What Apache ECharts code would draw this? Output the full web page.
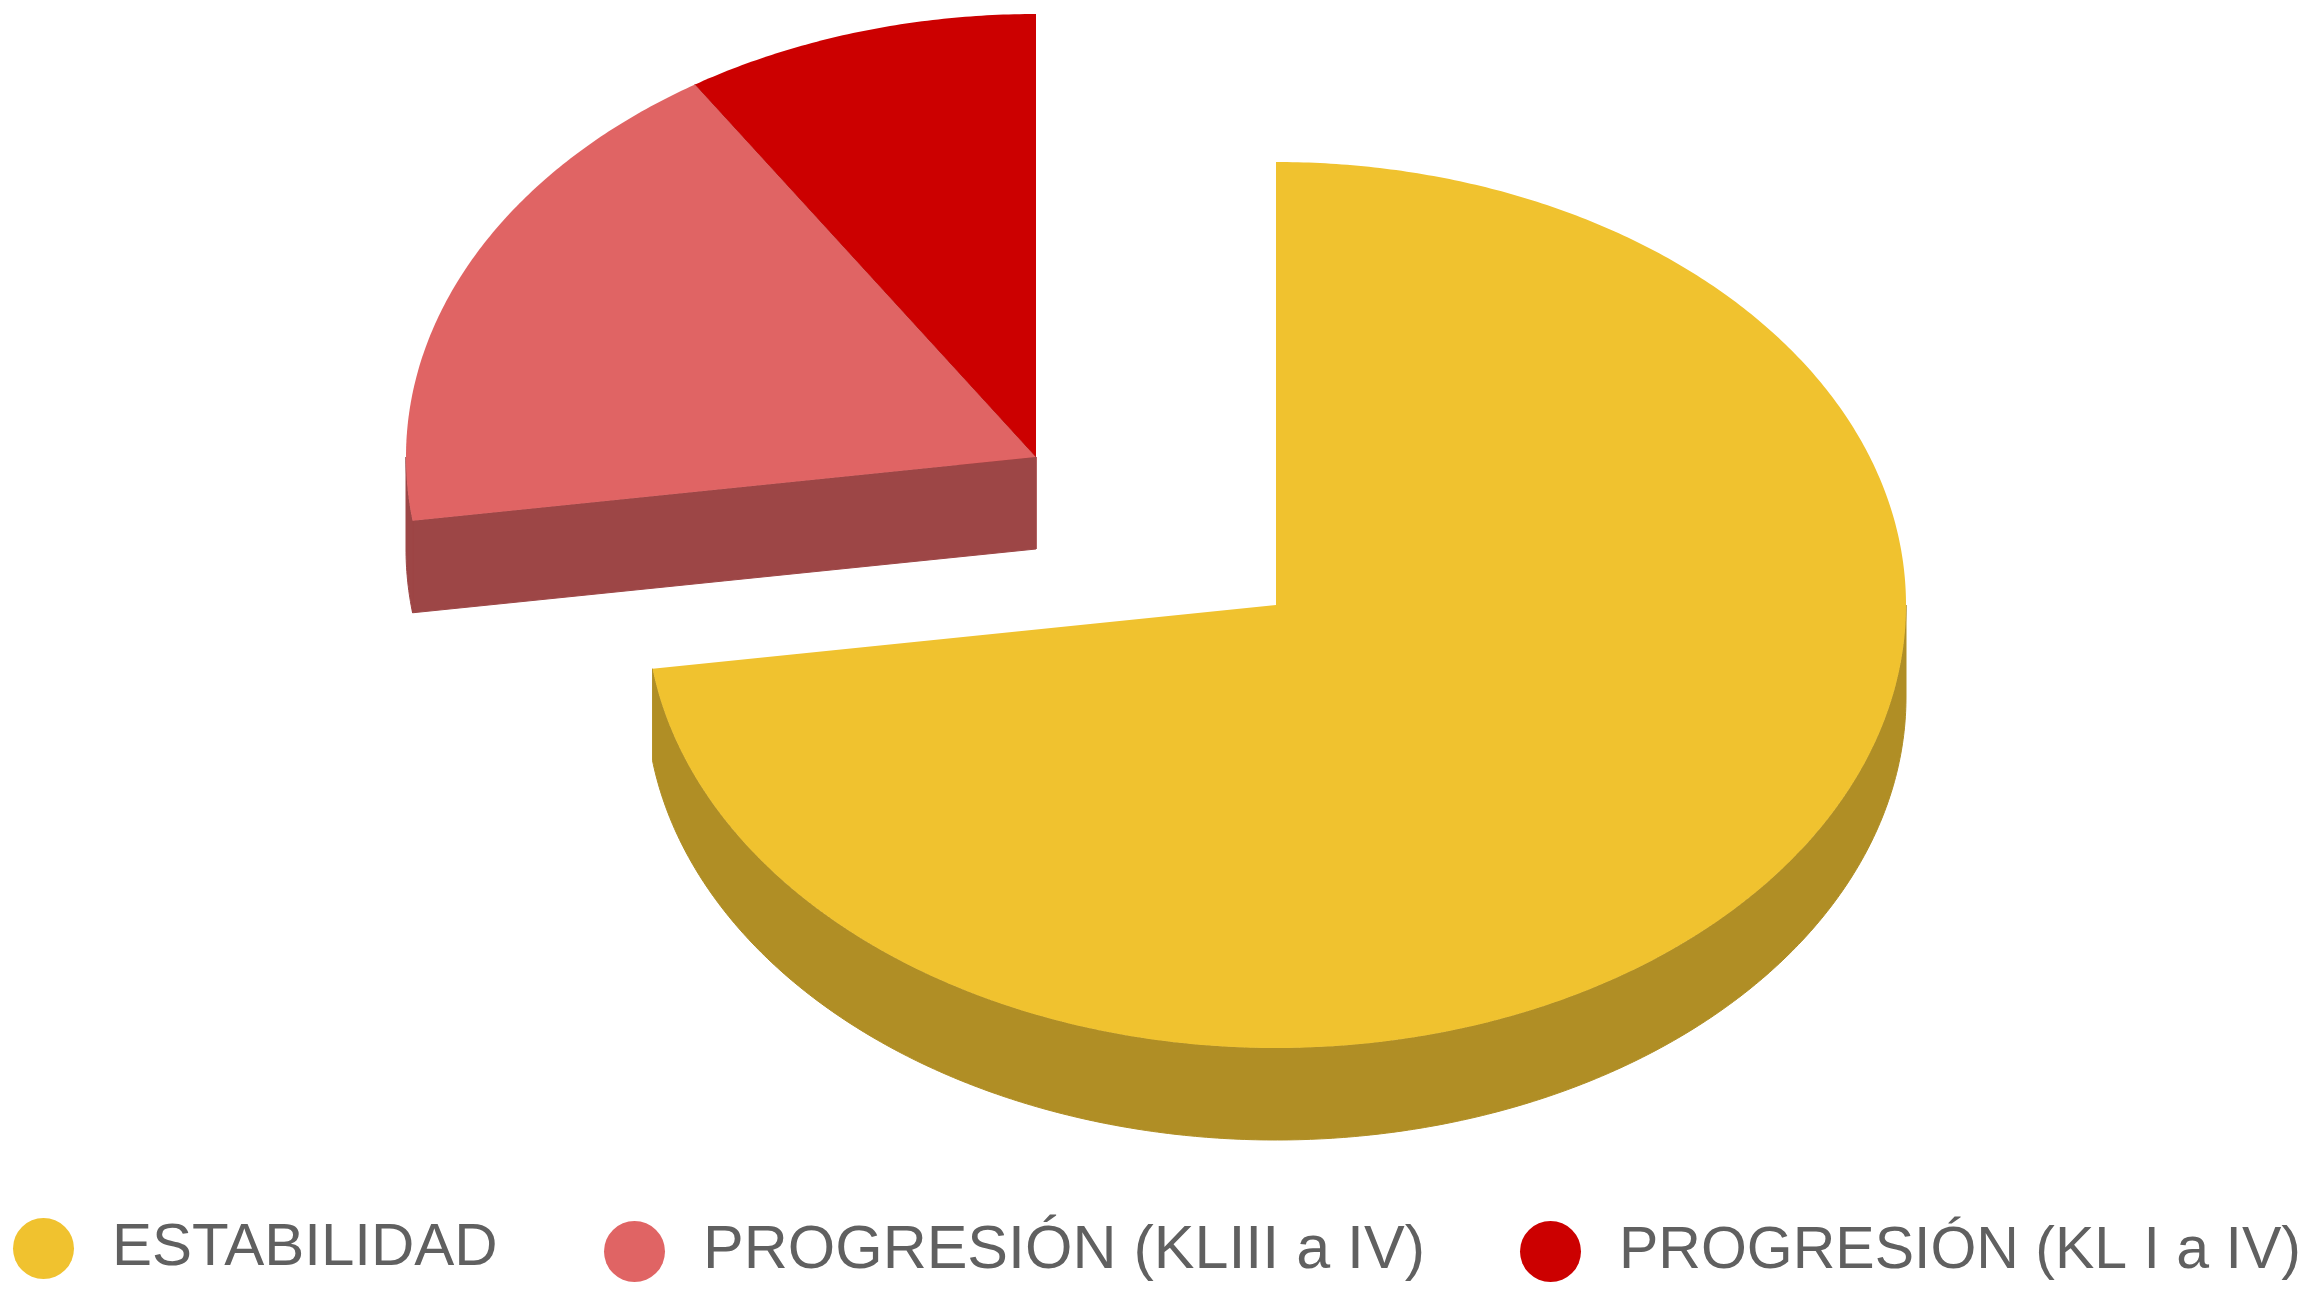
<!DOCTYPE html>
<html>
<head>
<meta charset="utf-8">
<title>Estabilidad y progresión</title>
<script src="https://cdn.jsdelivr.net/npm/echarts@6/dist/echarts.min.js"></script>
<style>
  html, body { margin: 0; background: #fff; }
  #chart { width: 2313px; height: 1293px; }
</style>
</head>
<body>
<div id="chart"></div>
<script>
// datos
var categories = ['ESTABILIDAD', 'PROGRESIÓN (KLIII a IV)', 'PROGRESIÓN (KL I a IV)'];
var values = [72.7, 18.2, 9.1];
var colors = ['#f0c22f', '#e06464', '#cc0000'];
var sideColors = ['#b08e25', '#9d4646', '#8f0000'];

// geometria de la torta en perspectiva
var pie = { cx: 1276, cy: 605, rx: 630, ry: 443, depth: 92 };
var explode = [[0, 0], [-240, -148], [-240, -148]];

// cada entrada de la leyenda va colocada a mano
var legendLeft = [13, 604, 1520];
var legendTop = [1218, 1221, 1221];
var legendFont = [60, 61, 59];

function pointAt(c, deg, drop) {
  var t = deg * Math.PI / 180;
  return [c[0] + pie.rx * Math.sin(t), c[1] - pie.ry * Math.cos(t) + (drop || 0)];
}

function arcPoints(c, from, to, drop) {
  var pts = [];
  var n = Math.max(2, Math.ceil(Math.abs(to - from) * 2));
  for (var i = 0; i <= n; i++) {
    pts.push(pointAt(c, from + (to - from) * i / n, drop));
  }
  return pts;
}

function sliceItem(params, api) {
  var idx = params.seriesIndex;
  var start = api.value(0);
  var end = api.value(1);
  var c = [pie.cx + explode[idx][0], pie.cy + explode[idx][1]];
  var children = [];
  var side = { fill: sideColors[idx], stroke: sideColors[idx], lineWidth: 1 };
  // los laterales de las primeras porciones tapan a los de las siguientes
  var sideZ = categories.length - idx;

  // cara radial inicial, solo se ve si mira hacia abajo
  if (Math.sin(start * Math.PI / 180) < 0) {
    children.push({
      type: 'polygon', z2: sideZ, style: side,
      shape: { points: [c, pointAt(c, start), pointAt(c, start, pie.depth), [c[0], c[1] + pie.depth]] }
    });
  }
  // borde exterior: solo la mitad delantera de la elipse
  var a = Math.max(start, 90);
  var b = Math.min(end, 270);
  if (b > a) {
    children.push({
      type: 'polygon', z2: sideZ, style: side,
      shape: { points: arcPoints(c, a, b, 0).concat(arcPoints(c, b, a, pie.depth)) }
    });
  }
  // cara superior
  children.push({
    type: 'polygon', z2: categories.length + 1, style: { fill: colors[idx] },
    shape: { points: [c].concat(arcPoints(c, start, end, 0)) }
  });
  return { type: 'group', children: children };
}

var total = values.reduce(function (s, v) { return s + v; }, 0);
var acc = 0;
var series = categories.map(function (name, i) {
  var start = acc / total * 360;
  acc += values[i];
  return {
    name: name,
    type: 'custom',
    coordinateSystem: 'none',
    silent: true,
    itemStyle: { color: colors[i] },
    data: [[start, acc / total * 360]],
    renderItem: sliceItem
  };
});

var legends = categories.map(function (name, i) {
  return {
    data: [name],
    left: legendLeft[i],
    top: legendTop[i],
    padding: 0,
    icon: 'circle',
    itemWidth: 61,
    itemHeight: 61,
    selectedMode: false,
    textStyle: {
      fontFamily: 'Liberation Sans',
      fontSize: legendFont[i],
      color: '#606060',
      padding: [0, 0, 0, 33]
    }
  };
});

var myChart = echarts.init(document.getElementById('chart'));
myChart.setOption({
  animation: false,
  backgroundColor: '#fff',
  legend: legends,
  series: series
});
</script>
</body>
</html>
